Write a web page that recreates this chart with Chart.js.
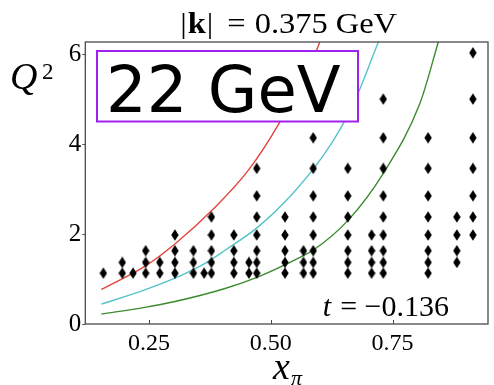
<!DOCTYPE html>
<html>
<head>
<meta charset="utf-8">
<script src="https://cdn.jsdelivr.net/npm/chart.js@4.4.1/dist/chart.umd.min.js"></script>
<style>
html,body{margin:0;padding:0;background:#fff;}
#c{display:block;}
</style>
</head>
<body>
<canvas id="c" width="494" height="385"></canvas>
<script>
// ---- data ----
const xTicks = [0.25, 0.5, 0.75];
const xTickLabels = ["0.25", "0.50", "0.75"];
const yTicks = [0, 2, 4, 6];
const yTickLabels = ["0", "2", "4", "6"];

// Q^2 levels of the kinematic grid
const q2Levels = [1.13, 1.37, 1.63, 1.98, 2.38, 2.85, 3.46, 4.14, 5.0, 6.03];
// x_pi columns and the range of Q^2 levels (indices) present in each
const colX    = [0.156,0.195,0.217,0.243,0.272,0.303,0.341,0.363,0.378,0.424,0.455,0.471,0.529,0.567,0.587,0.658,0.707,0.731,0.823,0.882,0.915];
const colFrom = [0,0,0,0,0,0,0,0,0,0,0,0,0,0,0,0,0,0,0,1,3];
const colTo   = [0,1,0,2,1,3,2,0,4,3,1,6,4,2,7,6,3,8,7,4,9];

// curves
const redX   = [0.152,0.241,0.303,0.385,0.454,0.519,0.594,0.605];
const redY   = [0.77,1.28,1.78,2.59,3.42,4.50,6.09,6.40];
const cyanX  = [0.152,0.241,0.303,0.365,0.406,0.474,0.539,0.608,0.646,0.676,0.721,0.727];
const cyanY  = [0.44,0.76,1.02,1.35,1.64,2.16,2.83,3.75,4.40,5.05,6.27,6.42];
const greenX = [0.152,0.241,0.303,0.406,0.474,0.563,0.587,0.659,0.731,0.806,0.844,0.849];
const greenY = [0.22,0.37,0.50,0.79,1.05,1.50,1.64,2.31,3.35,4.90,6.27,6.45];

const titleValue = "0.375";
const titleUnit = "GeV";
const boxText = "22 GeV";
const tValue = "= \u22120.136";

// ---- build ----
const pts = [];
colX.forEach((x, i) => {
  for (let k = colFrom[i]; k <= colTo[i]; k++) pts.push({x: x, y: q2Levels[k]});
});
const zip = (xs, ys) => xs.map((x, i) => ({x: x, y: ys[i]}));

// thin diamond marker
const dm = document.createElement('canvas');
dm.width = 8; dm.height = 12;
(function(){
  const g = dm.getContext('2d');
  g.fillStyle = '#000';
  g.beginPath();
  g.moveTo(4, 0.3); g.lineTo(7.7, 6); g.lineTo(4, 11.7); g.lineTo(0.3, 6);
  g.closePath(); g.fill();
})();

const SERIF = '"Liberation Serif", "DejaVu Serif", serif';

const decor = {
  id: 'decor',
  afterDraw(chart) {
    const ctx = chart.ctx, a = chart.chartArea;
    const xs = chart.scales.x, ys = chart.scales.y;
    ctx.save();
    // frame
    ctx.strokeStyle = '#4a4a4a';
    ctx.lineWidth = 1.3;
    ctx.strokeRect(a.left, a.top, a.right - a.left, a.bottom - a.top);
    // x ticks (inside)
    ctx.beginPath();
    xTicks.forEach(v => { const p = Math.round(xs.getPixelForValue(v)) + 0.5; ctx.moveTo(p, a.bottom); ctx.lineTo(p, a.bottom - 4); });
    // y ticks (outside)
    yTicks.forEach(v => { const p = Math.round(ys.getPixelForValue(v)) + 0.5; ctx.moveTo(a.left, p); ctx.lineTo(a.left - 3, p); });
    ctx.lineWidth = 1;
    ctx.stroke();

    ctx.fillStyle = '#000';
    ctx.textBaseline = 'alphabetic';
    // title: |k| = 0.375 GeV  (slightly widened like Computer Modern)
    const fs = 29, sx = 1.12;
    const N = fs + 'px ' + SERIF, B = 'bold ' + fs + 'px ' + SERIF;
    const parts = [
      {t: '|', f: N, g: 1}, {t: 'k', f: B, g: 1}, {t: '|', f: N, g: 14},
      {t: '=', f: N, g: 9}, {t: titleValue, f: N, g: 8}, {t: titleUnit, f: N, g: 0}
    ];
    let w = 0;
    parts.forEach(p => { ctx.font = p.f; p.w = ctx.measureText(p.t).width * sx; w += p.w + p.g; });
    let x0 = (a.left + a.right) / 2 + 2 - w / 2;
    parts.forEach(p => {
      ctx.font = p.f;
      ctx.save(); ctx.translate(x0, 33); ctx.scale(sx, 1); ctx.fillText(p.t, 0, 0); ctx.restore();
      x0 += p.w + p.g;
    });

    // y-axis title Q^2
    ctx.font = 'italic 38px ' + SERIF;
    ctx.fillText('Q', 10, 89);
    ctx.font = '23px ' + SERIF;
    ctx.fillText('2', 42, 79);

    // x-axis title x_pi
    ctx.font = 'italic 38px ' + SERIF;
    ctx.fillText('x', 273, 379);
    ctx.font = 'italic 22px ' + SERIF;
    ctx.fillText('\u03c0', 291, 385);

    // t label
    ctx.font = '30px ' + SERIF;
    ctx.textAlign = 'right';
    ctx.fillText(tValue, 449, 316);
    const restW = ctx.measureText(tValue).width;
    ctx.font = 'italic 30px ' + SERIF;
    ctx.fillText('t', 449 - restW - 9, 316);
    ctx.textAlign = 'left';

    // 22 GeV box
    ctx.fillStyle = '#fff';
    ctx.fillRect(97, 51, 261, 70.5);
    ctx.strokeStyle = '#a020f0';
    ctx.lineWidth = 2;
    ctx.strokeRect(97, 51, 261, 70.5);
    ctx.fillStyle = '#000';
    ctx.font = '64px "DejaVu Sans", sans-serif';
    ctx.fillText(boxText, 106, 111.5);
    ctx.restore();
  }
};

new Chart(document.getElementById('c'), {
  type: 'scatter',
  data: {
    datasets: [
      {data: pts, pointStyle: dm, pointRadius: 5, pointHoverRadius: 5, showLine: false, order: 0},
      {data: zip(redX, redY), showLine: true, borderColor: '#e2453d', borderWidth: 1.4, pointRadius: 0, cubicInterpolationMode: 'monotone', order: 1},
      {data: zip(cyanX, cyanY), showLine: true, borderColor: '#55c3c8', borderWidth: 1.4, pointRadius: 0, cubicInterpolationMode: 'monotone', order: 1},
      {data: zip(greenX, greenY), showLine: true, borderColor: '#3d8a2f', borderWidth: 1.4, pointRadius: 0, cubicInterpolationMode: 'monotone', order: 1}
    ]
  },
  options: {
    responsive: false,
    animation: false,
    events: [],
    layout: {padding: {top: 42, right: 6, left: 0, bottom: 0}},
    plugins: {legend: {display: false}, title: {display: false}, tooltip: {enabled: false}},
    scales: {
      x: {
        type: 'linear', min: 0.119, max: 0.946,
        grid: {display: false, drawTicks: false}, border: {display: false},
        afterBuildTicks: s => { s.ticks = xTicks.map(v => ({value: v})); },
        afterFit: s => { s.height = 61; },
        ticks: {
          padding: 5, color: '#000',
          font: {family: SERIF, size: 24},
          callback: (v) => { const i = xTicks.indexOf(v); return i >= 0 ? xTickLabels[i] : ''; }
        }
      },
      y: {
        type: 'linear', min: 0, max: 6.27,
        grid: {display: false, drawTicks: false}, border: {display: false},
        afterBuildTicks: s => { s.ticks = yTicks.map(v => ({value: v})); },
        afterFit: s => { s.width = 85.3; },
        ticks: {
          padding: 4, color: '#000',
          font: {family: SERIF, size: 25},
          callback: (v) => { const i = yTicks.indexOf(v); return i >= 0 ? yTickLabels[i] : ''; }
        }
      }
    }
  },
  plugins: [decor]
});
</script>
</body>
</html>
